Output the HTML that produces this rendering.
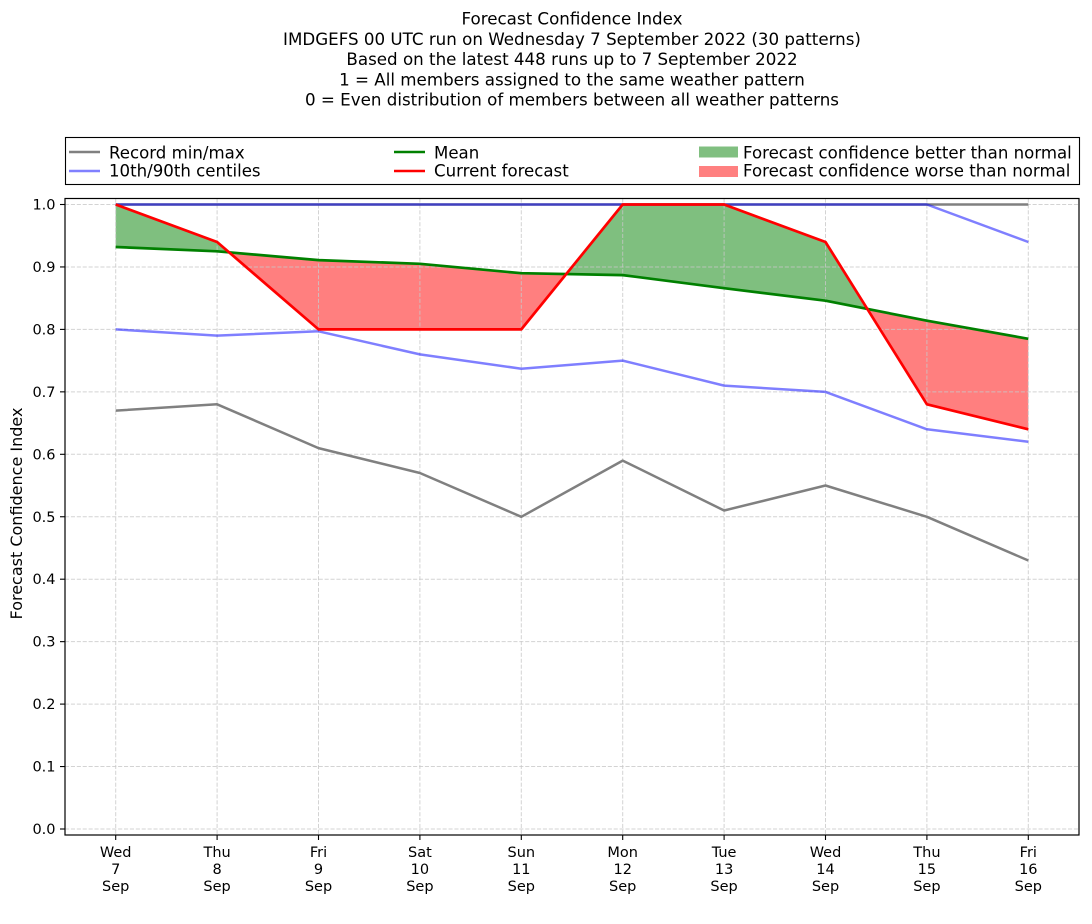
<!DOCTYPE html>
<html>
<head>
<meta charset="utf-8">
<style>
html,body{margin:0;padding:0;background:#fff;}
svg{display:block;}
text{font-family:"DejaVu Sans","Liberation Sans",sans-serif;fill:#000;}
</style>
</head>
<body>
<svg width="1092" height="924" viewBox="0 0 1092 924" xmlns="http://www.w3.org/2000/svg">
<rect x="0" y="0" width="1092" height="924" fill="#fff"/>

<!-- Title -->
<g font-size="16.7" text-anchor="middle">
<text x="572" y="24.5">Forecast Confidence Index</text>
<text x="572" y="44.8">IMDGEFS 00 UTC run on Wednesday 7 September 2022 (30 patterns)</text>
<text x="572" y="65.1">Based on the latest 448 runs up to 7 September 2022</text>
<text x="572" y="85.4">1 = All members assigned to the same weather pattern</text>
<text x="572" y="105.7">0 = Even distribution of members between all weather patterns</text>
</g>

<!-- Legend -->
<rect x="65.5" y="137.5" width="1014" height="47" fill="#fff" stroke="#000" stroke-width="1.1"/>
<line x1="69" y1="152" x2="100" y2="152" stroke="#808080" stroke-width="2.5"/>
<line x1="69" y1="171" x2="100" y2="171" stroke="#8080ff" stroke-width="2.5"/>
<line x1="394" y1="152" x2="425" y2="152" stroke="#008000" stroke-width="2.5"/>
<line x1="394" y1="171" x2="425" y2="171" stroke="#ff0000" stroke-width="2.5"/>
<rect x="699" y="146.5" width="39" height="11" fill="#80bf80"/>
<rect x="699" y="166" width="39" height="11" fill="#ff8080"/>
<g font-size="16.6">
<text x="109" y="158.3">Record min/max</text>
<text x="109" y="176.7">10th/90th centiles</text>
<text x="434" y="158.3">Mean</text>
<text x="434" y="176.7">Current forecast</text>
<text x="743" y="158.3">Forecast confidence better than normal</text>
<text x="743" y="176.7">Forecast confidence worse than normal</text>
</g>

<!-- Fills -->
<polygon points="115.7,204.5 217.1,242.0 229.1,252.3 217.1,251.3 115.7,247.0" fill="#008000" fill-opacity="0.5"/>
<polygon points="229.1,252.3 318.5,329.4 419.9,329.4 521.3,329.4 566.2,274.05 521.3,273.2 419.9,263.8 318.5,260.1" fill="#ff0000" fill-opacity="0.5"/>
<polygon points="566.2,274.05 622.7,204.5 724.1,204.5 825.5,242.0 867.3,308.95 825.5,300.7 724.1,288.2 622.7,275.1" fill="#008000" fill-opacity="0.5"/>
<polygon points="867.3,308.95 926.9,404.3 1028.3,429.3 1028.3,338.8 926.9,320.7" fill="#ff0000" fill-opacity="0.5"/>

<!-- Grid -->
<g stroke="#c8c8c8" stroke-opacity="0.8" stroke-width="1" stroke-dasharray="4.1,1.8" fill="none">
<line x1="65" y1="204.5" x2="1079" y2="204.5"/>
<line x1="65" y1="266.95" x2="1079" y2="266.95"/>
<line x1="65" y1="329.4" x2="1079" y2="329.4"/>
<line x1="65" y1="391.85" x2="1079" y2="391.85"/>
<line x1="65" y1="454.3" x2="1079" y2="454.3"/>
<line x1="65" y1="516.75" x2="1079" y2="516.75"/>
<line x1="65" y1="579.2" x2="1079" y2="579.2"/>
<line x1="65" y1="641.65" x2="1079" y2="641.65"/>
<line x1="65" y1="704.1" x2="1079" y2="704.1"/>
<line x1="65" y1="766.55" x2="1079" y2="766.55"/>
<line x1="65" y1="829" x2="1079" y2="829"/>
<line x1="115.7" y1="198.5" x2="115.7" y2="835"/>
<line x1="217.1" y1="198.5" x2="217.1" y2="835"/>
<line x1="318.5" y1="198.5" x2="318.5" y2="835"/>
<line x1="419.9" y1="198.5" x2="419.9" y2="835"/>
<line x1="521.3" y1="198.5" x2="521.3" y2="835"/>
<line x1="622.7" y1="198.5" x2="622.7" y2="835"/>
<line x1="724.1" y1="198.5" x2="724.1" y2="835"/>
<line x1="825.5" y1="198.5" x2="825.5" y2="835"/>
<line x1="926.9" y1="198.5" x2="926.9" y2="835"/>
<line x1="1028.3" y1="198.5" x2="1028.3" y2="835"/>
</g>

<!-- Series -->
<g fill="none" stroke-linejoin="round" stroke-linecap="butt">
<polyline points="115.7,204.5 217.1,204.5 318.5,204.5 419.9,204.5 521.3,204.5 622.7,204.5 724.1,204.5 825.5,204.5 926.9,204.5 1028.3,204.5" stroke="#808080" stroke-width="2.5"/>
<polyline points="115.7,410.6 217.1,404.3 318.5,448.1 419.9,473.0 521.3,516.8 622.7,460.6 724.1,510.5 825.5,485.5 926.9,516.8 1028.3,560.5" stroke="#808080" stroke-width="2.5"/>
<polyline points="115.7,204.5 217.1,204.5 318.5,204.5 419.9,204.5 521.3,204.5 622.7,204.5 724.1,204.5 825.5,204.5 926.9,204.5 1028.3,242.0" stroke="#0000ff" stroke-opacity="0.5" stroke-width="2.5"/>
<polyline points="115.7,329.4 217.1,335.6 318.5,331.3 419.9,354.4 521.3,368.7 622.7,360.6 724.1,385.6 825.5,391.9 926.9,429.3 1028.3,441.8" stroke="#0000ff" stroke-opacity="0.5" stroke-width="2.5"/>
<polyline points="115.7,247.0 217.1,251.3 318.5,260.1 419.9,263.8 521.3,273.2 622.7,275.1 724.1,288.2 825.5,300.7 926.9,320.7 1028.3,338.8" stroke="#008000" stroke-width="2.7"/>
<polyline points="115.7,204.5 217.1,242.0 318.5,329.4 419.9,329.4 521.3,329.4 622.7,204.5 724.1,204.5 825.5,242.0 926.9,404.3 1028.3,429.3" stroke="#ff0000" stroke-width="2.7"/>
</g>

<!-- Axes frame -->
<rect x="65" y="198.5" width="1014" height="636.5" fill="none" stroke="#000" stroke-width="1.2"/>

<!-- Ticks -->
<g stroke="#000" stroke-width="1.1">
<line x1="60" y1="204.5" x2="65" y2="204.5"/>
<line x1="60" y1="266.95" x2="65" y2="266.95"/>
<line x1="60" y1="329.4" x2="65" y2="329.4"/>
<line x1="60" y1="391.85" x2="65" y2="391.85"/>
<line x1="60" y1="454.3" x2="65" y2="454.3"/>
<line x1="60" y1="516.75" x2="65" y2="516.75"/>
<line x1="60" y1="579.2" x2="65" y2="579.2"/>
<line x1="60" y1="641.65" x2="65" y2="641.65"/>
<line x1="60" y1="704.1" x2="65" y2="704.1"/>
<line x1="60" y1="766.55" x2="65" y2="766.55"/>
<line x1="60" y1="829" x2="65" y2="829"/>
<line x1="115.7" y1="835" x2="115.7" y2="840"/>
<line x1="217.1" y1="835" x2="217.1" y2="840"/>
<line x1="318.5" y1="835" x2="318.5" y2="840"/>
<line x1="419.9" y1="835" x2="419.9" y2="840"/>
<line x1="521.3" y1="835" x2="521.3" y2="840"/>
<line x1="622.7" y1="835" x2="622.7" y2="840"/>
<line x1="724.1" y1="835" x2="724.1" y2="840"/>
<line x1="825.5" y1="835" x2="825.5" y2="840"/>
<line x1="926.9" y1="835" x2="926.9" y2="840"/>
<line x1="1028.3" y1="835" x2="1028.3" y2="840"/>
</g>

<g font-size="14.5" text-anchor="end">
<text x="55.5" y="209.5">1.0</text>
<text x="55.5" y="272">0.9</text>
<text x="55.5" y="334.4">0.8</text>
<text x="55.5" y="396.9">0.7</text>
<text x="55.5" y="459.3">0.6</text>
<text x="55.5" y="521.8">0.5</text>
<text x="55.5" y="584.2">0.4</text>
<text x="55.5" y="646.7">0.3</text>
<text x="55.5" y="709.1">0.2</text>
<text x="55.5" y="771.6">0.1</text>
<text x="55.5" y="834">0.0</text>
</g>

<g font-size="14.5" text-anchor="middle">
<text x="115.7" y="857">Wed</text><text x="115.7" y="874">7</text><text x="115.7" y="891">Sep</text>
<text x="217.1" y="857">Thu</text><text x="217.1" y="874">8</text><text x="217.1" y="891">Sep</text>
<text x="318.5" y="857">Fri</text><text x="318.5" y="874">9</text><text x="318.5" y="891">Sep</text>
<text x="419.9" y="857">Sat</text><text x="419.9" y="874">10</text><text x="419.9" y="891">Sep</text>
<text x="521.3" y="857">Sun</text><text x="521.3" y="874">11</text><text x="521.3" y="891">Sep</text>
<text x="622.7" y="857">Mon</text><text x="622.7" y="874">12</text><text x="622.7" y="891">Sep</text>
<text x="724.1" y="857">Tue</text><text x="724.1" y="874">13</text><text x="724.1" y="891">Sep</text>
<text x="825.5" y="857">Wed</text><text x="825.5" y="874">14</text><text x="825.5" y="891">Sep</text>
<text x="926.9" y="857">Thu</text><text x="926.9" y="874">15</text><text x="926.9" y="891">Sep</text>
<text x="1028.3" y="857">Fri</text><text x="1028.3" y="874">16</text><text x="1028.3" y="891">Sep</text>
</g>

<!-- Y label -->
<text x="0" y="0" font-size="16" text-anchor="middle" transform="translate(22,513.5) rotate(-90)">Forecast Confidence Index</text>
</svg>
</body>
</html>
